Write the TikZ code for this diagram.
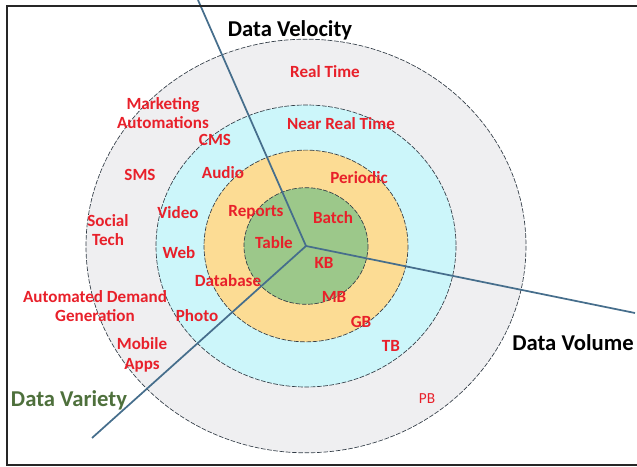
\documentclass[tikz,border=0pt]{standalone}
\usepackage{fontspec}
\setmainfont{Carlito}
\usepackage{tikz}
\tikzset{>=latex}
\usetikzlibrary{calc}
\definecolor{sred}{RGB}{232, 32, 42}
\definecolor{sgreen}{RGB}{78, 112, 60}
\definecolor{saxis}{RGB}{70, 110, 140}
\definecolor{sring}{RGB}{50, 60, 70}
\definecolor{cgray}{RGB}{239, 239, 241}
\definecolor{ccyan}{RGB}{204, 246, 250}
\definecolor{cyellow}{RGB}{252, 220, 148}
\definecolor{cgreen}{RGB}{156, 200, 138}

\begin{document}
\begin{tikzpicture}[x=0.75pt,y=-0.75pt,
    ring/.style={draw=sring,line width=0.5pt,dash pattern=on 3.5pt off 1.2pt},
    axis/.style={draw=saxis,line width=1.3pt},
    lbl/.style={text=sred,font=\fontsize{12.8}{14.5}\selectfont\bfseries,align=center,inner sep=0pt},
    lblthin/.style={lbl,font=\fontsize{11.5}{13}\selectfont},
    title/.style={font=\fontsize{17}{19}\selectfont\bfseries,inner sep=0pt}
  ]
  \useasboundingbox (0,0) rectangle (637,467);

  \coordinate (center) at (306,246);
  \coordinate (velend) at (198,0);
  \coordinate (volend) at (635,313);
  \coordinate (varend) at (92,438);

    % rings, outer first
    \foreach \r/\col in {220/cgray,150/ccyan,102/cyellow,62/cgreen} {
        \draw[ring,fill=\col] (center) ellipse ({\r} and {0.94*\r});
    }

    % axes
    \draw[axis] (center) -- (velend);
    \draw[axis] (center) -- (volend);
    \draw[axis] (center) -- (varend);

    % frame
    \draw[line width=1.5pt,black!85] (637,6) -- (7,6) -- (7,465) -- (637,465);

  \node[title] (velocity) at (290,30) {Data Velocity};
  \node[title] (volume) at (573,343) {Data Volume};
  \node[title,text=sgreen] (variety) at (69,400) {Data Variety};

  % velocity
  \node[lbl] (realtime) at (325,72) {Real Time};
  \node[lbl] (nearreal) at (341,124) {Near Real Time};
  \node[lbl] (periodic) at (359,178) {Periodic};
  \node[lbl] (batch) at (333,218) {Batch};

  % volume
  \node[lbl] (kb) at (324,263) {KB};
  \node[lbl] (mb) at (334,297) {MB};
  \node[lbl] (gb) at (361,322) {GB};
  \node[lbl] (tb) at (391,346) {TB};
  \node[lblthin] (pb) at (427,399) {PB};

  % variety
  \node[lbl] (table) at (274,243) {Table};
  \node[lbl] (reports) at (256,212) {Reports};
  \node[lbl] (database) at (228,281) {Database};
  \node[lbl] (photo) at (197,316) {Photo};
  \node[lbl] (web) at (179,253) {Web};
  \node[lbl] (video) at (178,213) {Video};
  \node[lbl] (audio) at (223,173) {Audio};
  \node[lbl] (cms) at (215,140) {CMS};
  \node[lbl] (sms) at (140,175) {SMS};
  \node[lbl] (marketing) at (163,113) {Marketing\\Automations};
  \node[lbl] (social) at (108,230) {Social\\Tech};
  \node[lbl] (demand) at (95,306) {Automated Demand\\Generation};
  \node[lbl] (mobile) at (142,355) {Mobile\\Apps};

\end{tikzpicture}
\end{document}
